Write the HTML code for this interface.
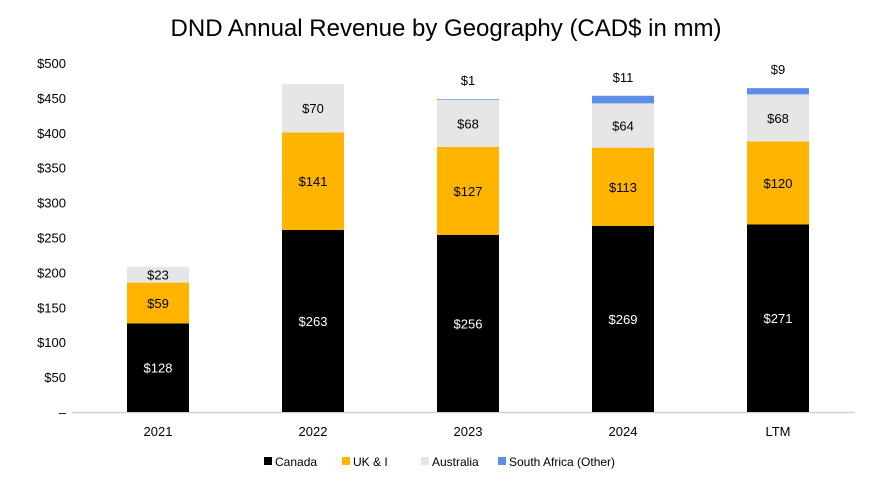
<!DOCTYPE html>
<html><head><meta charset="utf-8"><style>
body{margin:0;background:#fff;font-family:"Liberation Sans",sans-serif;}
svg text{font-family:"Liberation Sans",sans-serif;}
</style></head><body>
<svg id="chart" width="869" height="485">
<text x="446" y="36" text-anchor="middle" font-size="24" fill="#000">DND Annual Revenue by Geography (CAD$ in mm)</text>
</svg>
<script>
const categories=["2021","2022","2023","2024","LTM"];
const canada=[128,263,256,269,271];
const ukI=[59,141,127,113,120];
const australia=[23,70,68,64,68];
const southAfrica=[0,0,1,11,9];
const yTicks=[0,50,100,150,200,250,300,350,400,450,500];
const seriesNames=["Canada","UK & I","Australia","South Africa (Other)"];
const colors=["#000000","#FFB400","#E6E6E6","#5B8EE6"];
const NS="http://www.w3.org/2000/svg";
const svg=document.getElementById('chart');
const y0=412,pxPer=346/500;
function yScale(v){return y0-v*pxPer;}
function tickY(v){return y0-v*349/500;}
function xScale(i){return 158+i*155;}
const bw=62;
function mk(t,a,p){const e=document.createElementNS(NS,t);for(const k in a)e.setAttribute(k,a[k]);(p||svg).appendChild(e);return e;}
yTicks.forEach(v=>{
 const t=mk('text',{x:66,y:tickY(v)+5,'text-anchor':'end','font-size':13,fill:'#000'});
 t.textContent=v===0?'–':'$'+v;
 
 
});
const ax=mk('line',{x1:72,x2:855,y1:y0+0.5,y2:y0+0.5,stroke:'#d0d0d0','stroke-width':1.5});


const series=[canada,ukI,australia,southAfrica];
categories.forEach((c,i)=>{
 let base=0;
 series.forEach((s,k)=>{
  const v=s[i]; if(v<=0)return;
  const r=mk('rect',{x:xScale(i)-bw/2,y:yScale(base+v),width:bw,height:v*pxPer,fill:colors[k]});
  
  
  let ly; if(k===3||v<5){ly=yScale(base+v)-14;}else{ly=yScale(base+v/2)+5;}
  const t=mk('text',{x:xScale(i),y:ly,'text-anchor':'middle','font-size':13,fill:k===0?'#fff':'#000'});
  t.textContent='$'+v;
  
  
  base+=v;
 });
 const t=mk('text',{x:xScale(i),y:436,'text-anchor':'middle','font-size':13,fill:'#000'});
 t.textContent=c;
 
 
});
const lx=[264,342,421,498];
seriesNames.forEach((n,k)=>{
 const g=mk('g',{});
 
 
 mk('rect',{x:lx[k],y:457,width:8,height:8,fill:colors[k]},g);
 const t=mk('text',{x:lx[k]+11,y:466,'font-size':12,fill:'#000'},g);
 t.textContent=n;
});
</script>
</body></html>
